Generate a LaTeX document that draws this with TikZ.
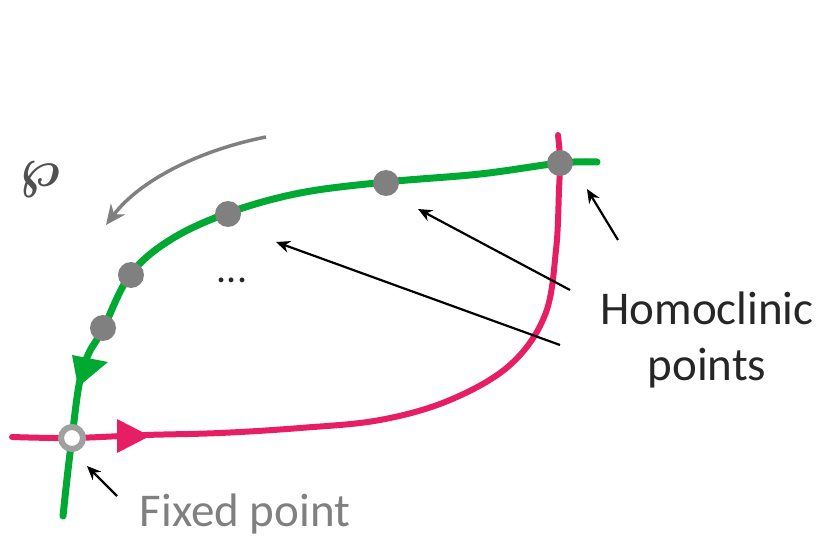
\documentclass[tikz,border=0pt]{standalone}
\usepackage{fontspec}
\setmainfont{Carlito}
\usetikzlibrary{arrows.meta}
\definecolor{grn}{RGB}{0,170,50}
\definecolor{rd}{RGB}{232,30,100}
\definecolor{gr}{RGB}{128,128,128}
\definecolor{txt}{RGB}{38,38,38}
\definecolor{wpc}{RGB}{80,80,80}
\tikzset{
  hpt/.style={circle,fill=gr,inner sep=0pt,minimum size=26pt},
  ptr/.style={-{Stealth[length=14pt,width=12pt]},line width=2.2pt,black},
}
\begin{document}
\begin{tikzpicture}[x=1pt,y=-1pt]
\useasboundingbox (0,0) rectangle (833,548);
% green curve
\draw[grn,line width=7pt,line cap=round] plot[smooth,tension=0.6] coordinates
 {(63,516) (68,470) (72,438) (79,385) (88,355) (103,329) (130,275) (170,240) (228,213) (300,193) (386,182) (480,174) (560,163) (597,162)};
% red curve
\draw[rd,line width=6pt,line cap=round] plot[smooth,tension=0.6] coordinates
 {(12,437) (72,438) (145,435) (220,433) (300,428) (380,420) (450,400) (510,365) (545,315) (556,250) (559,190) (560,160) (558,135)};
% arrowheads
\fill[rd] (117,419) -- (117,453) -- (150,436) -- cycle;
\fill[grn] (72,355) -- (108,362) -- (78,387) -- cycle;
% homoclinic points
\node[hpt] (h1) at (103,328) {};
\node[hpt] (h2) at (131,275) {};
\node[hpt] (h3) at (228,214) {};
\node[hpt] (h4) at (386,183) {};
\node[hpt] (h5) at (560,163) {};
% fixed point
\node[circle,draw=gr!75,line width=6pt,fill=white,inner sep=0pt,minimum size=22pt] (fp) at (72,438) {};
% dots
\node[text=txt,font=\fontsize{40}{40}\selectfont] (dots) at (232,280) {...};
% wp
\node[text=wpc] (wp) at (40,180) {\scalebox{5.5}{\boldmath$\wp$}};
% gray arrow
\coordinate (ga1) at (266,137);
\coordinate (ga2) at (106,225);
\draw[gr,line width=3.5pt,-{Stealth[length=20pt,width=18pt]}] (ga1) .. controls (200,150) and (140,180) .. (ga2);
% labels
\node[text=txt,font=\fontsize{47}{56}\selectfont,align=center] (hl) at (707,340) {Homoclinic\\points};
\node[text=gr,font=\fontsize{47}{47}\selectfont] (fl) at (245,514) {Fixed point};
% pointers
\coordinate (p1) at (618,240);
\coordinate (p2) at (570,290);
\coordinate (p3) at (560,345);
\coordinate (p4) at (117,496);
\draw[ptr] (p1) -- (587,189);
\draw[ptr] (p2) -- (418,209);
\draw[ptr] (p3) -- (276,242);
\draw[ptr] (p4) -- (87,466);
\end{tikzpicture}
\end{document}
